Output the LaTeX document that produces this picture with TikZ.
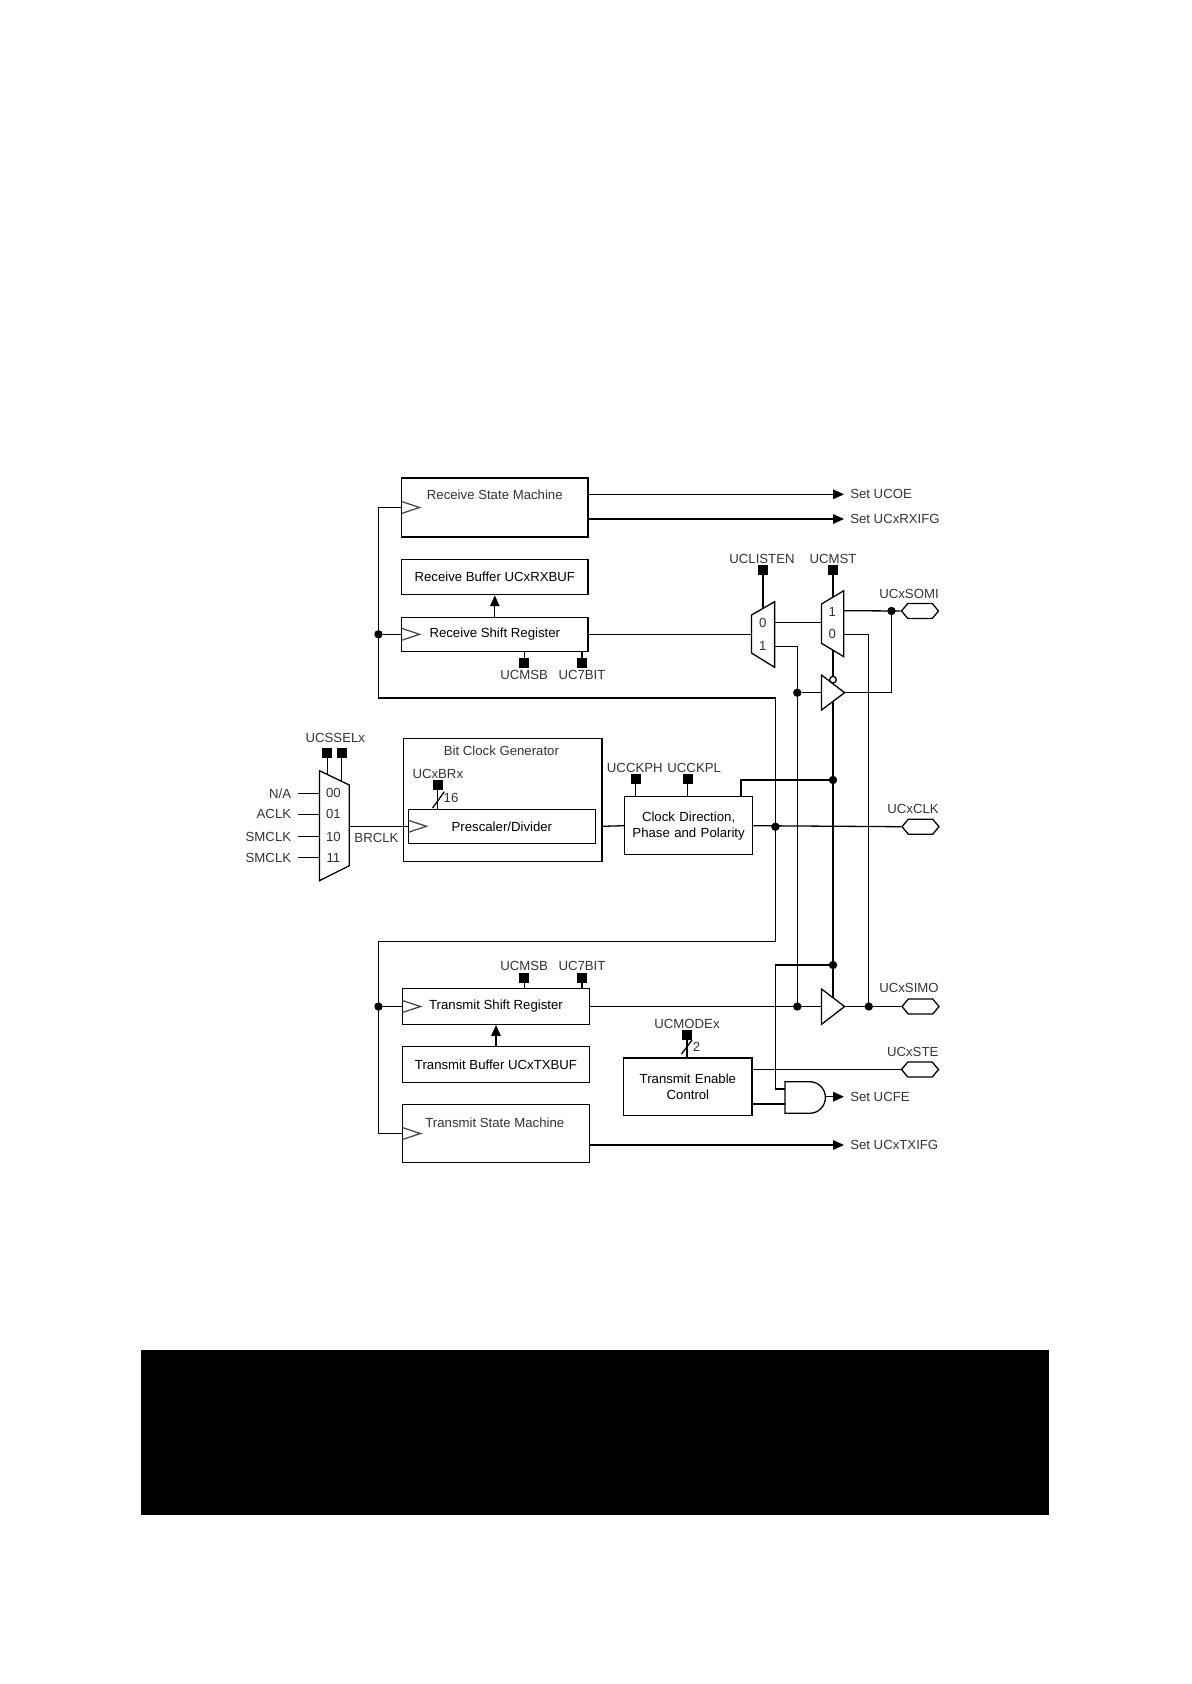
\documentclass[tikz,border=0pt]{standalone}
\usepackage{fontspec}
\setmainfont{Liberation Sans}
\usetikzlibrary{arrows.meta,shapes.symbols}
\tikzset{
  block/.style={draw,inner sep=0pt,align=center},
  pin/.style={draw,fill=black,inner sep=0pt,minimum width=4.4pt,minimum height=4.4pt},
  dot/.style={circle,fill=black,inner sep=0pt,minimum size=4.2pt},
  txt/.style={inner sep=0pt,text=black!80},
  setlab/.style={inner xsep=2.8pt,inner ysep=0pt,anchor=west,text=black!80},
  port/.style={draw,signal,signal to=east and west,signal pointer angle=100,inner sep=0pt,minimum width=18.5pt,minimum height=7.5pt},
  sig/.style={-{Triangle[length=5.4pt,width=4.7pt]}}
}
\begin{document}
\begin{tikzpicture}[x=0.5pt,y=-0.5pt,line width=0.65pt,font=\fontsize{6.6}{8}\selectfont]
\useasboundingbox (0,0) rectangle (1191,1684);
\fill[black] (141,1350) rectangle (1049,1515);

\node[block,minimum width=93.2pt,minimum height=29.5pt] (rsm) at (494.8,507.5) {};
\node[block,minimum width=93.2pt,minimum height=17.7pt] (rbuf) at (494.8,577) {Receive Buffer UCxRXBUF};
\node[block,minimum width=93.2pt,minimum height=17pt] (rsr) at (494.8,634.3) {Receive Shift Register};
\node[block,minimum width=99.2pt,minimum height=61.5pt] (bcg) at (502.8,799.8) {};
\node[block,minimum width=93.6pt,minimum height=17pt] (pre) at (501.9,826.3) {Prescaler/Divider};
\node[block,minimum width=64.1pt,minimum height=29pt,text width=62pt] (cdp) at (688.6,825.7) {Clock Direction,\\Phase and Polarity};
\node[block,minimum width=93.6pt,minimum height=17.8pt] (tsr) at (496,1006.5) {Transmit Shift Register};
\node[block,minimum width=93.6pt,minimum height=17.8pt] (tbuf) at (496,1064.5) {Transmit Buffer UCxTXBUF};
\node[block,minimum width=93.6pt,minimum height=29.2pt] (tsm) at (496,1133.5) {};
\node[block,minimum width=64.1pt,minimum height=28.8pt,text width=62pt] (tec) at (687.9,1086.8) {Transmit Enable\\Control};

\node[txt] (rsmlab) at (494.8,494.3) {Receive State Machine};
\node[txt] (tsmlab) at (494.8,1122.3) {Transmit State Machine};
\node[txt] (bcglab) at (501.4,750.7) {Bit Clock Generator};

\draw[black!70] (401.5,501.5) -- (419.6,507.5) -- (401.5,513.5);
\draw[black!70] (401.5,628.3) -- (419.6,634.3) -- (401.5,640.3);
\draw[black!70] (408.3,820.3) -- (426.5,826.3) -- (408.3,832.3);
\draw[black!70] (402.3,1000.5) -- (420.5,1006.5) -- (402.3,1012.5);
\draw[black!70] (402.3,1127.5) -- (420.5,1133.5) -- (402.3,1139.5);

\node[dot] (rxdot) at (378.5,634.3) {};
\node[dot] (txdot) at (378.5,1006.5) {};
\node[dot] (ckdot) at (775.4,826.7) {};
\coordinate (brkup) at (775.4,698);
\coordinate (brkdn) at (775.4,941.7);
\draw (rsm.west) -| (rxdot.center) |- (brkup) -- (ckdot.center) -- (brkdn) -| (txdot.center) |- (tsm.west);
\draw (rxdot) -- (rsr.west);
\draw (txdot) -- (tsr.west);
\draw[sig] (rsr.north) -- (rbuf.south);
\draw[sig] (tbuf.north) -- (tsr.south);

\node[setlab] (setoe) at (844,494.3) {Set UCOE};
\node[setlab] (setrx) at (844,519) {Set UCxRXIFG};
\node[setlab] (setfe) at (844,1096.7) {Set UCFE};
\node[setlab] (settx) at (844,1145) {Set UCxTXIFG};
\draw[sig] (rsm.east |- setoe) -- (setoe.west);
\draw[sig] (rsm.east |- setrx) -- (setrx.west);
\draw[sig] (tsm.east |- settx) -- (settx.west);

\node[pin] (rxmsb) at (524.2,663) {};
\node[pin] (rx7) at (582,663) {};
\node[pin] (txmsb) at (524.2,977.7) {};
\node[pin] (tx7) at (582,977.7) {};
\node[txt] (rxmsblab) at (524.2,675) {UCMSB};
\node[txt] (rx7lab) at (582,675) {UC7BIT};
\node[txt] (txmsblab) at (524.2,965.7) {UCMSB};
\node[txt] (tx7lab) at (582,965.7) {UC7BIT};
\draw (rxmsb.center) -- (rxmsb.center |- rsr.south);
\draw (rx7.center) -- (rx7.center |- rsr.south);
\draw (txmsb.center) -- (txmsb.center |- tsr.north);
\draw (tx7.center) -- (tx7.center |- tsr.north);

\draw (751.5,615) -- (774.6,601.7) -- (774.6,667.3) -- (751.5,653) -- cycle;
\draw (821.5,604) -- (843.8,590.7) -- (843.8,656.7) -- (821.5,643.3) -- cycle;
\node[txt] (mxazero) at (762.7,623) {0};
\node[txt] (mxaone) at (762.7,645.7) {1};
\node[txt] (mxbone) at (832.3,612) {1};
\node[txt] (mxbzero) at (832.3,634.3) {0};
\node[pin] (listen) at (763,570.3) {};
\node[pin] (mst) at (833,570.3) {};
\node[txt] (listenlab) at (762,559) {UCLISTEN};
\node[txt] (mstlab) at (833,559) {UCMST};
\coordinate (mxatop) at (763,608.3);
\coordinate (mxbtop) at (833,597);
\coordinate (mxbbot) at (833,650);
\draw (listen.center) -- (mxatop);
\draw (mst.center) -- (mxbtop);
\draw (rsr.east) -- (751.5,634.3);
\draw (774.6,622.3) -- (821.5,622.3);

\node[port] (somi) at (920,611) {};
\node[port] (sclk) at (920.5,826.7) {};
\node[port] (simo) at (920.5,1006.5) {};
\node[port] (ste) at (920,1069.5) {};
\node[txt] (somilab) at (909,594.3) {UCxSOMI};
\node[txt] (sclklab) at (913,809.3) {UCxCLK};
\node[txt] (simolab) at (909,988.3) {UCxSIMO};
\node[txt] (stelab) at (912.7,1051.7) {UCxSTE};

\node[dot] (somidot) at (891.5,611) {};
\node[dot] (simodot) at (868.8,1006.5) {};
\node[dot] (bufdot) at (797.3,692.7) {};
\node[dot] (txbdot) at (797.3,1006.5) {};
\node[dot] (ckhi) at (833,780) {};
\node[dot] (tedot) at (833,965) {};

\draw (821.5,675) -- (844.6,692.7) -- (821.5,710) -- cycle;
\draw (821.5,989) -- (844.6,1006.5) -- (821.5,1024.3) -- cycle;
\draw (833,679.7) circle (3.3);
\coordinate (rxbuft) at (821.5,692.7);
\coordinate (rxbuftip) at (844.6,692.7);
\coordinate (txbufl) at (821.5,1006.5);
\coordinate (txbuftip) at (844.6,1006.5);
\coordinate (bubtop) at (833,676.4);
\coordinate (rxbufb) at (833,701.5);
\coordinate (txbuft) at (833,997.7);

\draw (774.6,646.7) -| (bufdot.center) -- (txbdot.center);
\draw (bufdot) -- (rxbuft);
\draw (843.8,610.7) -- (somi.west);
\draw (rxbuftip) -| (somidot.center);
\draw (843.8,634.3) -| (simodot.center);
\draw (mxbbot) -- (bubtop);
\draw (rxbufb) -- (ckhi.center) -- (tedot.center) -- (txbuft);
\draw (tsr.east) -- (txbufl);
\draw (txbuftip) -- (simo.west);
\draw (cdp.east) -- (sclk.west);
\draw (pre.east -| bcg.east) -- (cdp.west);

\coordinate (ckout) at (741,796.7);
\draw (ckout) |- (ckhi.center);

\draw (785,1081.7) -- (809.6,1081.7) arc[start angle=90,end angle=-90,radius=7.9pt] -- (785,1113.3) -- cycle;
\coordinate (anda) at (785,1089);
\coordinate (andb) at (785,1104);
\coordinate (ando) at (825.4,1096.7);
\draw (tedot.center) -| (775.4,1089) -- (anda);
\draw (tec.east |- andb) -- (andb);
\draw[sig] (ando) -- (setfe.west);
\draw (tec.east |- ste) -- (ste.west);

\draw (319.4,770.7) -- (349.3,785) -- (349.3,865.7) -- (319.4,880.7) -- cycle;
\node[txt] (inzero) at (333.4,793.3) {00};
\node[txt] (inone) at (333.4,814.3) {01};
\node[txt] (intwo) at (333.4,836.7) {10};
\node[txt] (inthree) at (333.4,857.7) {11};
\node[txt,anchor=east] (na) at (291.8,793.3) {N/A};
\node[txt,anchor=east] (aclk) at (291.8,814.3) {ACLK};
\node[txt,anchor=east] (smclka) at (291.8,836.7) {SMCLK};
\node[txt,anchor=east] (smclkb) at (291.8,857.7) {SMCLK};
\coordinate (inl) at (319.4,793.3);
\draw (na.east) ++(6,0) -- (319.4,793.3);
\draw (aclk.east) ++(6,0) -- (319.4,814.3);
\draw (smclka.east) ++(6,0) -- (319.4,836.7);
\draw (smclkb.east) ++(6,0) -- (319.4,857.7);
\draw (349.3,826.3) -- (pre.west);
\node[txt] (brclk) at (376.5,838.3) {BRCLK};
\node[pin] (ssa) at (327.3,752.7) {};
\node[pin] (ssb) at (341.8,752.7) {};
\node[txt] (sslab) at (335.3,738.3) {UCSSELx};
\draw (ssa.center) -- (327.3,774.5);
\draw (ssb.center) -- (341.8,781.4);

\node[pin] (brx) at (437.8,785.3) {};
\node[txt] (brxlab) at (437.8,774) {UCxBRx};
\node[txt] (brxn) at (451,798.3) {16};
\draw (brx.center) -- (brx.center |- pre.north);
\draw (432.6,808) -- (444.3,791.7);

\node[pin] (ckph) at (635.7,779.3) {};
\node[pin] (ckpl) at (687.7,779.3) {};
\node[txt] (ckphlab) at (634.8,767.7) {UCCKPH};
\node[txt] (ckpllab) at (694.2,767.7) {UCCKPL};
\draw (ckph.center) -- (ckph.center |- cdp.north);
\draw (ckpl.center) -- (ckpl.center |- cdp.north);

\node[pin] (mode) at (687,1035.3) {};
\node[txt] (modelab) at (687,1024.3) {UCMODEx};
\node[txt] (moden) at (696.5,1046.7) {2};
\draw (mode.center) -- (mode.center |- tec.north);
\draw (681.5,1054) -- (692,1040);
\end{tikzpicture}
\end{document}
